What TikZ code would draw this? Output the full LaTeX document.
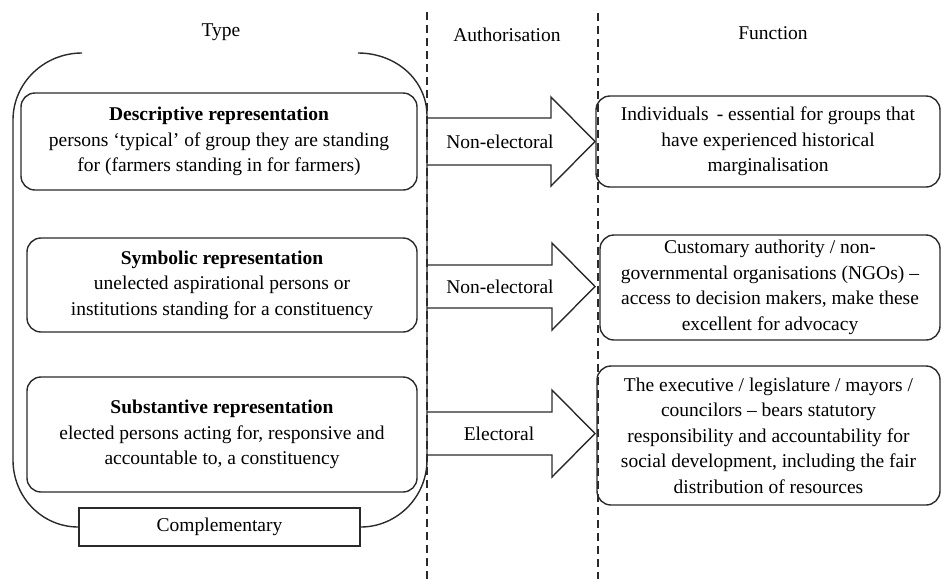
\documentclass[tikz,border=0pt]{standalone}
\usepackage{fontspec}
\setmainfont{Liberation Serif}
\definecolor{ink}{HTML}{2A2A2A}
\newcommand\diagfont{\fontsize{19.5}{25.5}\selectfont}
\begin{document}
\begin{tikzpicture}[x=1pt,y=-1pt,
  line/.style={draw=ink,line width=1.4pt},
  divider/.style={draw=ink,line width=1.2pt,dash pattern=on 8pt off 5pt},
  txt/.style={font=\diagfont,text=black,inner sep=0pt,align=center},
  roundbox/.style={line,txt,rounded corners=14pt},
  plainbox/.style={line,txt},
  blockarrow/.style={line,line join=miter}
]
\useasboundingbox (0,0) rectangle (942,579);

% column headings
\node[txt] (hType) at (221,32) {Type};
\node[txt] (hAuth) at (507,35) {Authorisation};
\node[txt] (hFunc) at (773,33) {Function};

% column dividers
\coordinate (d1top) at (427,12);
\coordinate (d1bot) at (427,579);
\coordinate (d2top) at (598,13);
\coordinate (d2bot) at (598,579);
\draw[divider] (d1top) -- (d1bot);
\draw[divider] (d2top) -- (d2bot);

% types of representation
\node[roundbox,minimum width=396,minimum height=97] (desc) at (219,141.5)
  {\textbf{Descriptive representation}\\
   persons ‘typical’ of group they are standing\\
   for (farmers standing in for farmers)};
\node[roundbox,minimum width=390,minimum height=94] (symb) at (222,285)
  {\textbf{Symbolic representation}\\
   unelected aspirational persons or\\
   institutions standing for a constituency};
\node[roundbox,minimum width=390,minimum height=115] (subs) at (222,434.5)
  {\textbf{Substantive representation}\\
   elected persons acting for, responsive and\\
   accountable to, a constituency};

% complementary bracket around the three types
\node[plainbox,minimum width=281,minimum height=38] (comp) at (219.5,527) {Complementary};
\coordinate (brTL) at (82,53);
\coordinate (brTR) at (358,53);
\draw[line] (brTL) .. controls (44,53) and (13,83) .. (13,120)
  -- (13,460) .. controls (13,497) and (42,527) .. (comp.west);
\draw[line] (comp.east) .. controls (397,527) and (427,497) .. (427,460)
  -- (427,116) .. controls (427,80) and (396,53) .. (brTR);

% authorisation arrows
\draw[blockarrow] (427,118) -- (551,118) -- (551,97) -- (595,141.5)
  -- (551,186) -- (551,165) -- (427,165);
\node[txt] (aut1) at (500,141.5) {Non-electoral};
\draw[blockarrow] (427,265) -- (552,265) -- (552,243) -- (595,286.5)
  -- (552,330) -- (552,308) -- (427,308);
\node[txt] (aut2) at (500,286.5) {Non-electoral};
\draw[blockarrow] (427,412) -- (552,412) -- (552,390) -- (595,433.5)
  -- (552,477) -- (552,455) -- (427,455);
\node[txt] (aut3) at (499,433.5) {Electoral};

% functions
\node[roundbox,minimum width=344,minimum height=91] (fun1) at (768,141.5)
  {Individuals \,- essential for groups that\\
   have experienced historical\\
   marginalisation};
\node[roundbox,minimum width=340,minimum height=105] (fun2) at (770,287.5)
  {Customary authority / non-\\
   governmental organisations (NGOs) –\\
   access to decision makers, make these\\
   excellent for advocacy};
\node[roundbox,minimum width=343,minimum height=139] (fun3) at (768.5,435.5)
  {The executive / legislature / mayors /\\
   councilors – bears statutory\\
   responsibility and accountability for\\
   social development, including the fair\\
   distribution of resources};
\end{tikzpicture}
\end{document}
